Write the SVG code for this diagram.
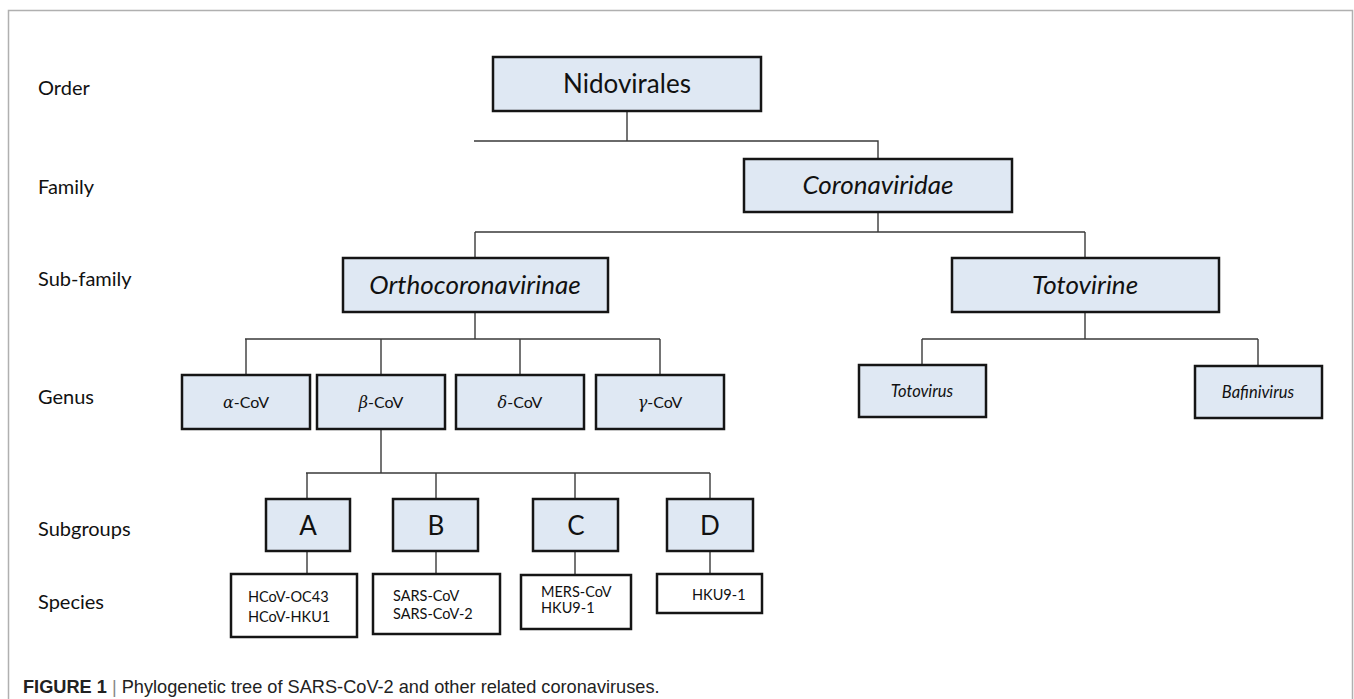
<svg xmlns="http://www.w3.org/2000/svg" width="1354" height="699" viewBox="0 0 1354 699">
<style>
  .box{fill:#dfe8f3;stroke:#151515;stroke-width:2.5}
  .wbox{fill:#ffffff;stroke:#151515;stroke-width:2.5}
  .con{fill:none;stroke:#3a3a3a;stroke-width:1.4}
  .t{font-family:Lato,"Liberation Sans",sans-serif;fill:#111;text-anchor:middle}
  .it{font-style:italic}
  .lbl{font-family:Lato,"Liberation Sans",sans-serif;font-size:20px;fill:#111}
  .sp{font-family:Lato,"Liberation Sans",sans-serif;font-size:14.5px;fill:#111}
  .cap{font-family:"Liberation Sans",Arial,sans-serif;font-size:18.2px;fill:#222}
</style>
<rect width="1354" height="699" fill="#ffffff"/>
<path d="M8.5,699 V10.5 H1352.5 V699" fill="none" stroke="#b0b0b0" stroke-width="1.5"/>

<g id="rank-labels">
  <text class="lbl" x="38" y="95">Order</text>
  <text class="lbl" x="38" y="194">Family</text>
  <text class="lbl" x="38" y="286">Sub-family</text>
  <text class="lbl" x="38" y="404">Genus</text>
  <text class="lbl" x="38" y="536">Subgroups</text>
  <text class="lbl" x="38" y="609">Species</text>
</g>

<g id="connectors">
  <path class="con" d="M627,111 V141 M474,141 H878 V159"/>
  <path class="con" d="M878,212 V232 M475,232 H1085 M475,232 V258 M1085,232 V258"/>
  <path class="con" d="M475,312 V339 M245,339 H660 M246,339 V375 M381,339 V375 M520,339 V375 M660,339 V375"/>
  <path class="con" d="M1085,312 V339 M922,339 H1258 M922,339 V365 M1258,339 V366"/>
  <path class="con" d="M381,429 V473 M306,473 H710 M307,473 V499 M436,473 V499 M575,473 V499 M710,473 V499"/>
  <path class="con" d="M307,551 V574 M436,551 V574 M575,551 V575 M710,551 V574"/>
</g>

<g id="nidovirales">
  <rect class="box" x="493" y="57" width="268" height="54"/>
  <text class="t" x="627" y="93" font-size="26">Nidovirales</text>
</g>
<g id="coronaviridae">
  <rect class="box" x="744" y="159" width="268" height="53"/>
  <text class="t it" x="878" y="194" font-size="26">Coronaviridae</text>
</g>
<g id="orthocoronavirinae">
  <rect class="box" x="343" y="258" width="265" height="54"/>
  <text class="t it" x="475" y="294" font-size="26">Orthocoronavirinae</text>
</g>
<g id="totovirine">
  <rect class="box" x="952" y="258" width="267" height="54"/>
  <text class="t it" x="1085" y="294" font-size="26">Totovirine</text>
</g>

<g id="alpha-cov">
  <rect class="box" x="182" y="375" width="128" height="54"/>
  <text class="t" x="246" y="408" font-size="16"><tspan class="it" font-family="'DejaVu Serif',serif">α</tspan>-CoV</text>
</g>
<g id="beta-cov">
  <rect class="box" x="317" y="375" width="128" height="54"/>
  <text class="t" x="381" y="408" font-size="16"><tspan class="it" font-family="'DejaVu Serif',serif">β</tspan>-CoV</text>
</g>
<g id="delta-cov">
  <rect class="box" x="456" y="375" width="128" height="54"/>
  <text class="t" x="520" y="408" font-size="16"><tspan class="it" font-family="'DejaVu Serif',serif">δ</tspan>-CoV</text>
</g>
<g id="gamma-cov">
  <rect class="box" x="596" y="375" width="128" height="54"/>
  <text class="t" x="660" y="408" font-size="16"><tspan class="it" font-family="'DejaVu Serif',serif">γ</tspan>-CoV</text>
</g>
<g id="totovirus">
  <rect class="box" x="859" y="365" width="127" height="52"/>
  <text class="t it" x="922" y="397" font-size="16.5">Totovirus</text>
</g>
<g id="bafinivirus">
  <rect class="box" x="1195" y="366" width="127" height="52"/>
  <text class="t it" x="1258" y="398" font-size="16.5">Bafinivirus</text>
</g>

<g id="subgroup-a">
  <rect class="box" x="266" y="499" width="84" height="52"/>
  <text class="t" x="308" y="535" font-size="26">A</text>
</g>
<g id="subgroup-b">
  <rect class="box" x="393" y="499" width="85" height="52"/>
  <text class="t" x="436" y="535" font-size="26">B</text>
</g>
<g id="subgroup-c">
  <rect class="box" x="533" y="499" width="85" height="52"/>
  <text class="t" x="576" y="535" font-size="26">C</text>
</g>
<g id="subgroup-d">
  <rect class="box" x="667" y="499" width="86" height="52"/>
  <text class="t" x="710" y="535" font-size="26">D</text>
</g>

<g id="species-a">
  <rect class="wbox" x="231" y="574" width="126" height="63"/>
  <text class="sp" x="248" y="602">HCoV-OC43</text>
  <text class="sp" x="248" y="622">HCoV-HKU1</text>
</g>
<g id="species-b">
  <rect class="wbox" x="373" y="574" width="127" height="60"/>
  <text class="sp" x="393" y="601">SARS-CoV</text>
  <text class="sp" x="393" y="619">SARS-CoV-2</text>
</g>
<g id="species-c">
  <rect class="wbox" x="521" y="575" width="110" height="54"/>
  <text class="sp" x="541" y="597" font-size="12.5">MERS-CoV</text>
  <text class="sp" x="541" y="613" font-size="12.5">HKU9-1</text>
</g>
<g id="species-d">
  <rect class="wbox" x="657" y="574" width="105" height="39"/>
  <text class="sp" x="692" y="600">HKU9-1</text>
</g>

<g id="caption">
  <text class="cap" x="23" y="693"><tspan font-weight="bold">FIGURE 1</tspan><tspan fill="#888"> | </tspan>Phylogenetic tree of SARS-CoV-2 and other related coronaviruses.</text>
</g>
</svg>
